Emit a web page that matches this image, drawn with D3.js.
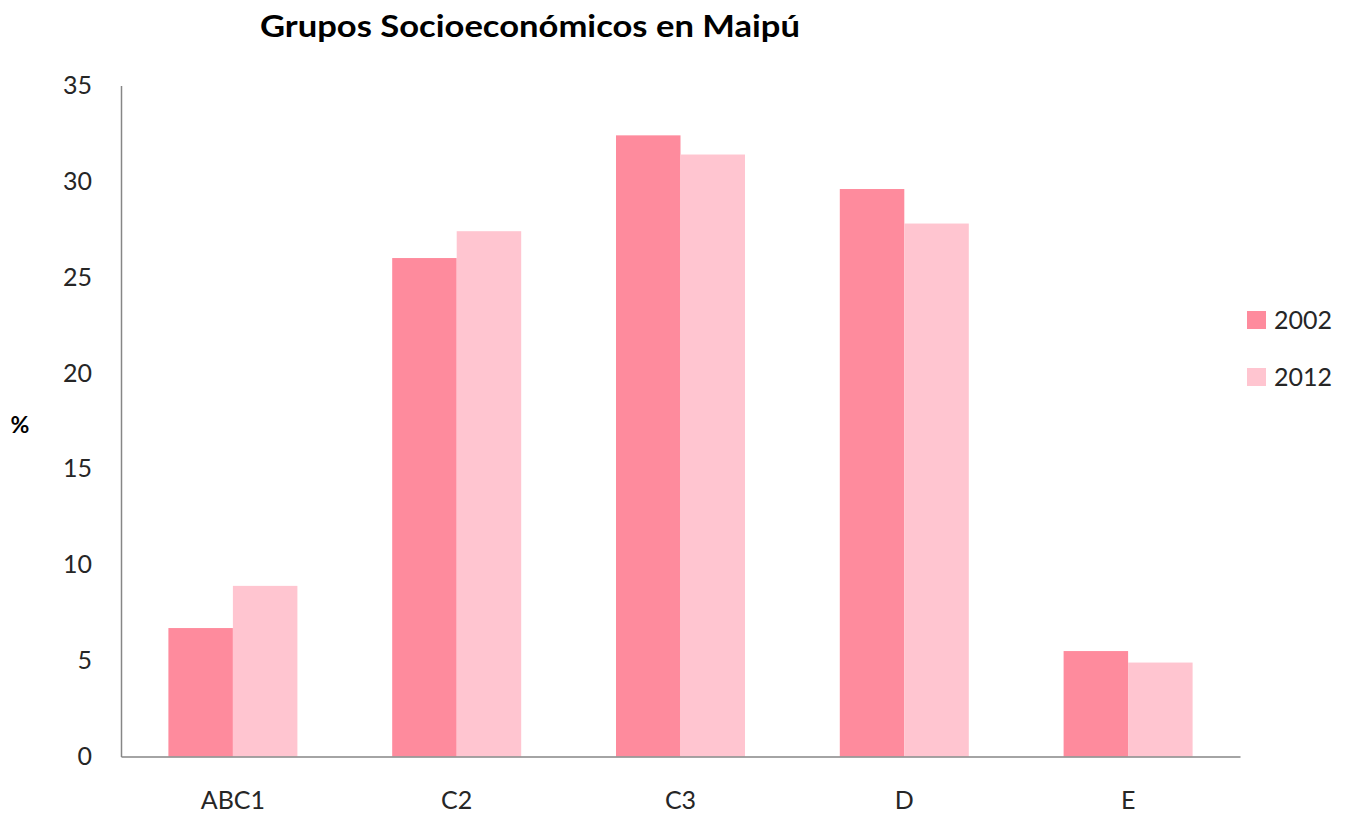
<!DOCTYPE html>
<html>
<head>
<meta charset="utf-8">
<script src="https://cdn.jsdelivr.net/npm/d3@7"></script>
<style>
  body { margin: 0; background: #fff; }
  svg text { font-family: Lato, "Open Sans", sans-serif; fill: #262626; }
</style>
</head>
<body>
<svg id="chart" width="1357" height="814"></svg>
<script>
var categories = ['ABC1', 'C2', 'C3', 'D', 'E'];
var years = ['2002', '2012'];
var values2002 = [6.7, 26.0, 32.4, 29.6, 5.5];
var values2012 = [8.9, 27.4, 31.4, 27.8, 4.9];
var yTicks = [0, 5, 10, 15, 20, 25, 30, 35];
var colors = ['#fe8b9d', '#ffc5d0'];

var svg = d3.select('#chart'),
	margin = {top: 85.5, right: 117, bottom: 57.5, left: 121},
	width = 1357 - margin.left - margin.right,
	height = 814 - margin.top - margin.bottom;

var g = svg.append('g')
	.attr('transform', 'translate(' + margin.left + ',' + margin.top + ')');

var x = d3.scaleBand().domain(categories).range([0, width]);
var x1 = d3.scaleBand().domain(years).range([0, 129]);
var y = d3.scaleLinear().domain([0, 35]).range([height, 0]);

var rows = categories.map(function(c, i) {
	return {cat: c, vals: [values2002[i], values2012[i]]};
});

// bars
var grp = g.selectAll('.cat')
	.data(rows)
	.enter().append('g')
	.attr('class', 'cat')
	.attr('transform', function(d) { return 'translate(' + (x(d.cat) + (x.bandwidth() - 129) / 2) + ',0)'; });

grp.selectAll('rect')
	.data(function(d) { return d.vals.map(function(v, i) { return {year: years[i], v: v, i: i}; }); })
	.enter().append('rect')
	.attr('x', function(d) { return x1(d.year); })
	.attr('width', x1.bandwidth())
	.attr('y', function(d) { return y(d.v); })
	.attr('height', function(d) { return height - y(d.v); })
	.attr('fill', function(d) { return colors[d.i]; });

// y axis
var yAxis = g.append('g')
	.call(d3.axisLeft(y).tickValues(yTicks).tickSize(0).tickPadding(29));
yAxis.select('.domain').attr('stroke', '#868686').attr('stroke-width', 1.5);
yAxis.selectAll('text').style('font-size', '25px').style('font-family', 'Lato, sans-serif').attr('fill', '#262626');

// x axis
var xAxis = g.append('g')
	.attr('transform', 'translate(0,' + height + ')')
	.call(d3.axisBottom(x).tickSize(0).tickPadding(35));
xAxis.select('.domain').attr('stroke', '#868686').attr('stroke-width', 1.5);
xAxis.selectAll('text').style('font-size', '25px').style('font-family', 'Lato, sans-serif').attr('fill', '#262626');

// title
svg.append('text')
	.attr('x', 260)
	.attr('y', 37)
	.attr('textLength', 540)
	.attr('lengthAdjust', 'spacingAndGlyphs')
	.style('font-size', '31px')
	.style('font-weight', 'bold')
	.style('fill', '#000')
	.text('Grupos Socioeconómicos  en Maipú');

// y label
svg.append('text')
	.attr('x', 20)
	.attr('y', 433)
	.attr('text-anchor', 'middle')
	.style('font-size', '23px')
	.style('font-weight', 'bold')
	.style('fill', '#000')
	.text('%');

// legend
var legend = svg.selectAll('.legend')
	.data(years)
	.enter().append('g')
	.attr('class', 'legend')
	.attr('transform', function(d, i) { return 'translate(1247,' + (311 + i * 57) + ')'; });

legend.append('rect')
	.attr('width', 19)
	.attr('height', 18)
	.attr('fill', function(d, i) { return colors[i]; });

legend.append('text')
	.attr('x', 27)
	.attr('y', 18)
	.style('font-size', '25px')
	.text(function(d) { return d; });
</script>
</body>
</html>
